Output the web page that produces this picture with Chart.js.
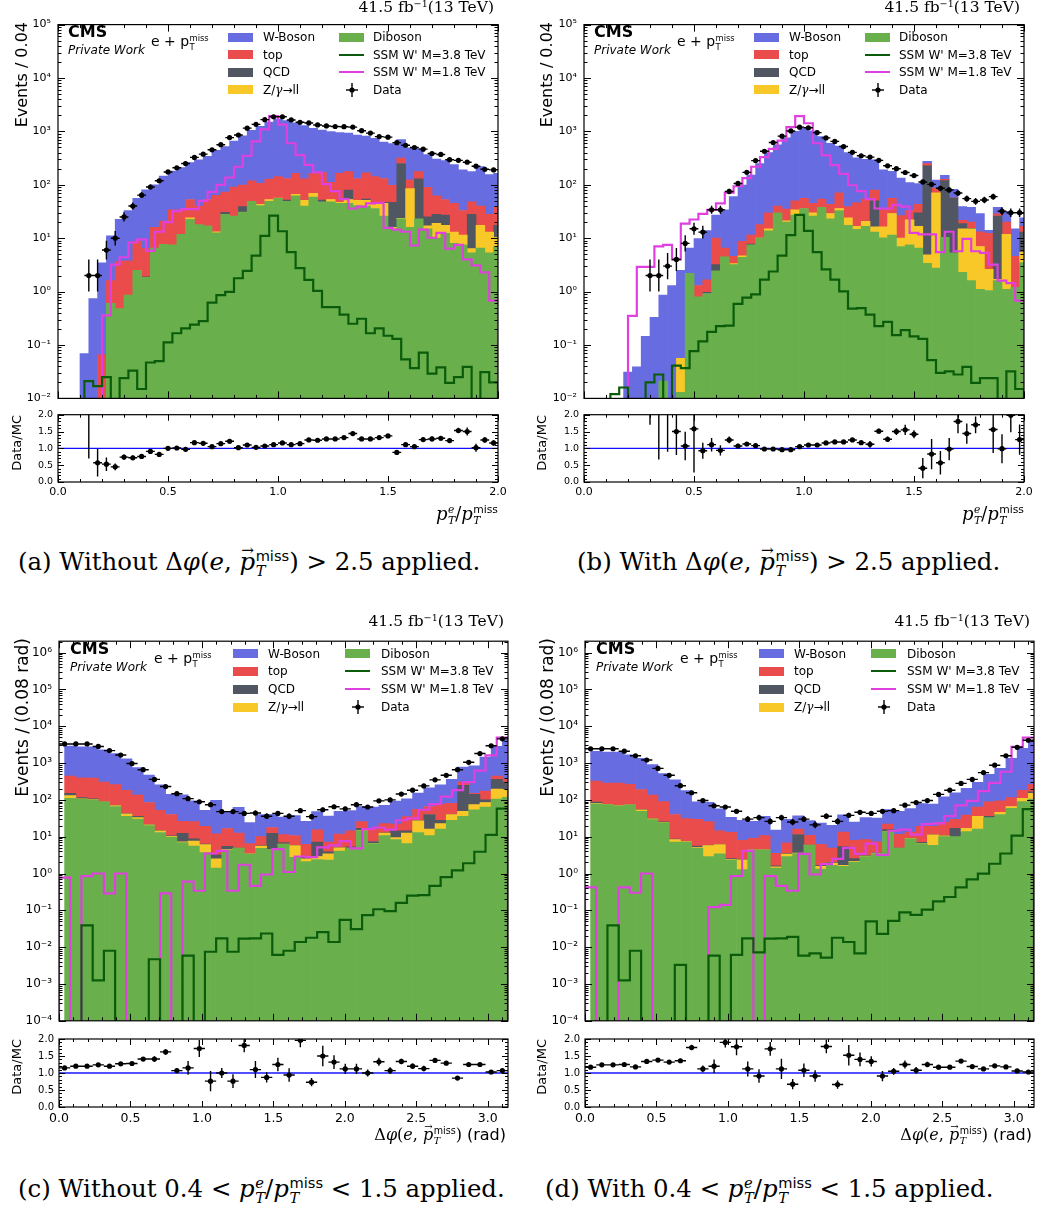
<!DOCTYPE html>
<html>
<head>
<meta charset="utf-8">
<title>W' e + MET control distributions</title>
<script src="https://cdn.jsdelivr.net/npm/chart.js@4.4.1/dist/chart.umd.min.js"></script>
<style>
html, body { margin: 0; padding: 0; background: #fff; }
body { width: 1038px; height: 1207px; position: relative; overflow: hidden; font-family: "DejaVu Sans", sans-serif; color: #000; }
canvas { position: absolute; }
.t { position: absolute; white-space: nowrap; line-height: 1; }
.cms { font-weight: bold; font-size: 16px; }
.pw { font-style: italic; font-size: 12px; }
.ep { font-size: 14px; }
.lg { font-size: 12px; }
.sw { position: absolute; width: 25px; height: 9px; }
.ln { position: absolute; width: 25px; height: 2px; }
.serif { font-family: "DejaVu Serif", "Liberation Serif", serif; }
.sans { font-family: "DejaVu Sans", sans-serif; font-style: normal; }
.vl { position: absolute; writing-mode: vertical-rl; transform: rotate(180deg); white-space: nowrap; line-height: 1; }
.ss { display: inline-block; vertical-align: -0.42em; font-size: 0.6em; line-height: 1.05; text-align: left; margin-left: 0.04em; }
.ss > span { display: block; }
.vec { position: relative; display: inline-block; font-style: italic; }
.vec .arr { position: absolute; left: 0.12em; top: -0.5em; font-size: 0.62em; font-style: normal; }
sup.e { font-size: 0.62em; vertical-align: 0.55em; line-height: 0; }
</style>
</head>
<body>
<script>
// ---- binning ----
const ptRange = [0, 2.0];        // p_T^e / p_T^miss, 50 bins of 0.04
const dphiRange = [0, Math.PI];  // delta phi, 40 bins of ~0.08 rad

// ---- (a) without delta-phi cut ----
const aDiboson = [0,0,0,0,0,0.60,0.48,0.86,2.5,1.85,6.5,7.7,7.5,11.8,22.5,18,17,12.6,28,26,31,49,41,49,56,49,62,40,59,48,48,45,45,41,40,36,26,15,23,16,23,15,10,12.3,8,7.5,5.3,6.5,5.3,7];
const aZll = [0,0,0,0,0,0,0,0,0,0,0,0,0,0,1.5,0,0,0.6,0,0,0,0,2,4,0.5,0,4,11,10,0,5,2,8,10,11,8,19,1,0.5,69,0,2,9,5.2,5,4,1.1,11,7.7,3.3];
const aQCD = [0,0,0,0,0,0,0,0,0,0.05,0,0,0,0,0,0,0,0,2.5,0,8,0,0,0,0,3,0,0,0,4,0,0,27,0,3,0,2,31,227,0,106,8,9,9.5,0,0,21.6,0,0,7.2];
const aTop = [0,0,0,0,0.066,1.0,3.2,2.9,6.2,4.5,9.5,13.3,26.5,22,29,22,36,50,42.5,65,60,70,64,75,86,79,98,79,93,119,58,117,96,80,113,98,84,51,65,39,47,65,34,26,32,21.5,20,22.5,15,20.5];
const aWBoson = [0,0,0.069,0.74,3.4,9.5,19,29,47,74,84,124,146,176,209,255,287,377,447,569,731,926,1143,1372,1552,1469,1286,1160,978,884,877,791,752,719,653,598,499,492,384,371,300,279,240,232,195,157,129,179,128,126];
const aSig38 = [0,0,0,0.021,0.017,0.025,0,0.024,0.033,0.015,0.047,0.050,0.112,0.166,0.205,0.24,0.28,0.62,0.86,0.99,1.78,2.45,4.7,11.1,26.5,13.5,5.5,2.75,1.66,1.03,0.51,0.51,0.37,0.25,0.31,0.166,0.205,0.149,0.13,0.054,0.037,0.072,0.029,0.038,0.0195,0.025,0.039,0,0.031,0.020];
const aSig18 = [0,0,0,0,0,0.36,3.2,4.4,8.3,9.5,5.8,13.2,20,32,35,35,50,74,100,137,218,350,650,1090,1940,1340,600,360,236,171,103,76,54,36,39,45,46,15.6,14.5,13.2,7.3,14.5,10.2,12.6,6.4,7.5,4.0,3.1,2.3,0.68];
const aData = [0,0,0,2,2,6,10,25,40,64,91,119,174,208,250,326,375,452,564,765,857,1150,1355,1660,1880,1880,1640,1480,1440,1320,1265,1235,1225,1205,1030,930,800,780,615,550,500,465,386,370,295,287,265,223,195,190];
const aRatio = [null,null,null,2.7,0.57,0.53,0.45,0.74,0.72,0.76,0.91,0.82,1.00,1.01,0.97,1.17,1.15,1.05,1.14,1.21,1.02,1.10,1.03,1.07,1.11,1.16,1.11,1.14,1.25,1.24,1.28,1.28,1.32,1.44,1.28,1.28,1.32,1.37,0.88,1.11,1.05,1.26,1.28,1.30,1.23,1.53,1.50,1.02,1.25,1.16];
const aRatioErr = [0,0,0,2.0,0.41,0.2,0.1,0.08,0.07,0.06,0.06,0.04,0.04,0.03,0.03,0.03,0.03,0.03,0.03,0.03,0.02,0.02,0.02,0.02,0.02,0.02,0.02,0.02,0.02,0.02,0.02,0.02,0.02,0.03,0.03,0.03,0.03,0.04,0.03,0.04,0.06,0.07,0.07,0.07,0.07,0.08,0.12,0.12,0.08,0.08];

// ---- (b) with delta-phi > 2.5 ----
const bDiboson = [0,0,0,0,0,0,0,0,0.021,0,0.013,2.2,0.8,0.92,2.45,4.5,3.2,4.4,7.5,10,13.7,30,20,27,36,26,38,23,33,17.5,14.7,16.7,13,10.2,11.4,7,7.5,6.5,3.4,2.75,10.4,5.3,2.3,1.6,1.1,1.05,1.6,1.1,1.2,3.5];
const bZll = [0,0,0,0,0,0,0,0,0,0,0.043,0,0,0,0,0,0.15,0.3,0,0.1,1.3,0,1.2,7,0,4,0,6,3,6.5,2,3.9,3.3,6.1,17.6,3,14.5,10.2,1.5,68,0,0,12.7,13.4,5.9,1.55,0.1,10.7,0,2.0];
const bQCD = [0,0,0,0,0,0,0,0,0,0,0,0,0,0.05,0.75,0,0,0,0.3,0,0,0,0,0,0,0,0,0,0,0,0,0,33.7,0,0,0,0,13.3,222,0,109.6,51,3.7,0.3,0,0,24.3,0,0,7.5];
const bTop = [0,0,0,0,0,0,0,0,0,0,0,0,0.5,0.69,6.8,2.0,1.25,4.0,3.6,7.9,15,10,13.8,16,20,15,16,14,35,15,29.3,33.4,30,17.7,27,16.5,11,13,23,16,7,0.7,2.8,4.7,6.2,9.7,2.5,8.2,3.4,3.7];
const bWBoson = [0,0,0,0,0.031,0.039,0.145,0.33,0.84,1.3,2.44,4.3,8.5,12.3,17,27.5,55.4,90,140,232,370,520,725,950,1114,975,746,557,459,361,274,245,215,156,123,106.5,77,62,26,36,24,25,17.5,18,15.8,1.7,9.5,12,10.4,7.3];
const bSig38 = [0,0,0,0.012,0.016,0,0,0.020,0.028,0,0.041,0.037,0.077,0.117,0.176,0.226,0.23,0.59,0.77,0.89,1.68,2.38,4.7,11.4,27.3,13.7,5.5,2.6,1.68,1.01,0.48,0.49,0.37,0.226,0.27,0.153,0.19,0.145,0.13,0.052,0.030,0.032,0.028,0.039,0.0195,0.024,0.024,0,0.032,0.015];
const bSig18 = [0,0,0,0,0,0.35,2.9,2.9,7.0,7.5,4.0,18.7,22.4,28.5,34,45,71,94,133,218,330,470,670,1200,1940,1420,600,355,234,160,98,76,54,36,36,42,39,12.6,11.8,11.8,5.5,13.2,5.7,9.7,5.7,5.3,3.2,1.6,1.44,0.68];
const bData = [0,0,0,0,0,0,0,2,2,3,4,8,15,13,34,34,75,106,171,284,425,620,815,1020,1200,1170,950,755,650,520,405,350,330,287,227,200,170,149,113,102,86,80,70,55,49,52,60,32,30,30];
const bRatio = [null,null,null,null,null,null,null,6.0,2.3,2.4,1.50,1.07,1.58,0.93,1.11,0.94,1.25,1.07,1.13,1.08,0.98,0.98,0.96,0.96,1.05,1.10,1.10,1.16,1.19,1.19,1.25,1.17,1.12,1.51,1.27,1.50,1.55,1.42,0.41,0.83,0.57,0.98,1.80,1.44,1.70,3.7,1.56,0.99,1.98,1.26];
const bRatioErr = [0,0,0,0,0,0,0,4.3,1.63,1.5,0.7,0.42,1.3,0.24,0.2,0.15,0.1,0.07,0.05,0.04,0.03,0.03,0.03,0.03,0.03,0.03,0.03,0.03,0.03,0.04,0.04,0.04,0.1,0.07,0.08,0.1,0.15,0.12,0.3,0.45,0.35,0.33,0.35,0.3,0.25,0.5,0.7,0.43,0.5,0.45];

// ---- (c) without pT ratio cut ----
const cDiboson = [110,104,100,87,66,36,30,20,13,9.7,6.9,5.6,3.7,1.4,4.3,4.8,3.3,4.8,4.3,6.2,2.75,2.1,2.4,2.3,4.1,4.8,14.5,6.5,10.7,8.4,6.5,13,10.7,16,28,36,54,64,105,117];
const cZll = [20,3,2,2,4,6,3,1,1.5,0.5,0.3,2,2.4,1.1,0.2,0.1,0.1,0.8,0.1,0.1,3,0.4,0.5,1.1,0.9,0.1,0.1,0.1,1.9,1,6.1,14,5.3,6.7,12,13,20,21,90,73];
const cQCD = [20,8,5,2,1,1,3,0.5,0.3,0.3,5.2,1.1,0.2,0.7,1,0.1,0.1,0.1,8,0.6,0.1,0.4,4.2,0.5,0.1,0.4,2.4,0.8,0.1,5,1.9,0.5,24,5.3,0.5,201,67,15,165,115];
const cTop = [290,281,283,214,189,140,99,63.5,37,29.5,13.6,17,12.7,8.7,11.2,7.6,3,4.3,5.4,4.5,4.9,3.3,8.3,3.2,6.7,9.2,8.7,8.6,10,7.5,20.5,27.5,26,49,40.5,55,9,73,80,70];
const cWBoson = [2430,2354,2360,1975,1560,1117,623,383,203,102,111,68,33,85,31,50,17.5,30,23,22.6,27,20,32.6,29,37,36.5,40,48,48,71,72,97,146,178,279,471,690,1277,2420,3875];
const cSig38 = [0,0,0.039,0.00126,0.008,0,0,0,0.0047,0,0,0.0059,0,0.0075,0.0174,0.0075,0.017,0.0174,0.0235,0.0062,0.008,0.0138,0.018,0.0255,0.0138,0.055,0.031,0.074,0.107,0.095,0.16,0.25,0.26,0.46,0.80,1.22,1.9,3.9,11.2,58];
const cSig18 = [0.77,0,0.85,1.0,0.29,1.0,0,0,0,0.29,0,0.60,0.34,3.5,4.1,0.34,1.73,0.46,0.94,4.6,1.1,2.9,2.8,5.1,5.8,7.6,4.8,16,17.8,15.5,28,31.5,54,77,122,183,305,620,1620,4900];
const cData = [3300,3300,3300,2830,2180,1650,970,660,360,230,147,108,89,74,48,48,43,44,36,43,36,51,35,54,65,57,74,64,94,100,144,183,240,350,465,660,1050,1810,2950,4550];
const cRatio = [1.15,1.20,1.20,1.24,1.20,1.27,1.28,1.41,1.41,1.62,1.07,1.15,1.72,0.76,1.0,0.76,1.81,1.10,0.87,1.25,0.94,1.96,0.73,1.5,1.32,1.12,1.12,1.0,1.33,1.07,1.34,1.20,1.13,1.37,1.29,0.85,1.25,1.25,1.03,1.07];
const cRatioErr = [0.02,0.02,0.02,0.02,0.02,0.03,0.04,0.06,0.08,0.08,0.08,0.2,0.25,0.3,0.15,0.2,0.2,0.25,0.15,0.2,0.2,0.2,0.12,0.3,0.2,0.15,0.15,0.1,0.12,0.1,0.08,0.08,0.08,0.05,0.04,0.03,0.03,0.03,0.02,0.02];

// ---- (d) with 0.4 < pT ratio < 1.5 ----
const dDiboson = [78,74,69,72,49,29,24,7.1,7.1,4.8,2.87,3.4,2.34,1.27,4.3,4.3,1.41,2.87,3.5,5.8,1.33,1.66,1.56,2.03,2.87,3.5,13.7,4.8,8.8,6.5,5.8,10,10,13.7,16,33,40,59,90,105];
const dZll = [3,1,1,1,5,1.5,0.5,1.3,0.3,0.3,2.9,2.7,0.1,1.07,0.1,0.1,0.1,0.5,0.1,0.1,0.23,0.25,0.1,0.1,0.1,0.1,0.1,0.1,0.1,0.1,5.4,0.5,0,3.3,20,0,6,7,20,45];
const dQCD = [6,1,1,1,1,0.5,1,0.2,0.1,0.5,0.1,0.1,0.1,0.1,0.1,0.1,0.1,0.1,7.9,0.1,0.1,0.1,3.7,0.4,0.1,0.1,1.8,0.1,0.1,0.4,0.1,0.1,7,0,0,3,0,0,0,16];
const dTop = [237,212,217,191,136,104,64.5,31.4,23.5,23.9,19.8,8.3,10.7,5.5,4.6,6.2,1.9,3.3,4.6,4.9,4.5,2.9,8.0,5.4,5.3,3.6,6.3,6.6,4.4,12.1,7.8,14,12.5,21.5,28,53,48,49,73,99];
const dWBoson = [1770,1688,1688,1415,1148,768,428,312,148,59.5,60,43,20.5,19.8,17.2,25.3,11.7,22.7,21,16.6,17.4,15.4,25.8,17.1,24.8,24.6,32.2,37.2,44.4,60,58,96,126.5,168.5,238,402,629,1224,2345,3785];
const dSig38 = [0,0,0.039,0.00126,0.008,0,0,0,0.0033,0,0,0.0059,0,0.0062,0.0174,0.0072,0.017,0.0174,0.019,0.0059,0.0068,0.0052,0.018,0.0138,0.0068,0.05,0.023,0.052,0.088,0.075,0.105,0.175,0.23,0.42,0.69,0.99,1.84,3.5,10.7,56];
const dSig18 = [0.42,0,0,0.42,0.30,1.0,0,0,0,0,0,0.123,0.14,0.85,4.1,0,0.85,0.46,0.34,3.4,0.94,1.8,2.5,5.0,3.4,6.5,3.2,14.5,15.5,11.4,22,23,36,71,94,173,288,580,2740,4900];
const dData = [2450,2450,2450,2100,1580,1210,715,465,243,156,96,69,64,49,30,33,26,33,25,30,21,36,26,38,46,43,49,51,72,85,96,141,183,280,360,550,875,1580,2680,4170];
const dRatio = [1.17,1.24,1.24,1.25,1.18,1.34,1.38,1.32,1.36,1.75,1.12,1.20,1.90,1.77,1.12,0.91,1.71,1.12,0.67,1.08,0.91,1.78,0.66,1.52,1.40,1.34,0.91,1.05,1.25,1.08,1.25,1.17,1.17,1.35,1.19,1.12,1.21,1.18,1.06,1.03];
const dRatioErr = [0.02,0.02,0.02,0.02,0.02,0.04,0.04,0.05,0.06,0.08,0.1,0.2,0.15,0.25,0.22,0.2,0.2,0.3,0.15,0.2,0.17,0.2,0.12,0.3,0.2,0.15,0.15,0.1,0.12,0.1,0.08,0.06,0.06,0.04,0.04,0.03,0.03,0.03,0.02,0.02];

// colours
const colW = '#676ce0', colTop = '#ea4c4c', colQCD = '#505763', colZ = '#f8c828', colDib = '#69b04c';
const colS38 = '#0a5c0a', colS18 = '#e040e0';

const FLOOR = 1e-9;      // stand-in for empty bins on the log axis (drawn far below the frame)
const errStore = {};

Chart.defaults.font.family = 'DejaVu Sans';
Chart.defaults.color = '#000';

function supNum(n) {
    const m = {'-': '\u207B', '0': '\u2070', '1': '\u00B9', '2': '\u00B2', '3': '\u00B3', '4': '\u2074', '5': '\u2075', '6': '\u2076'};
    return String(n).split('').map(c => m[c]).join('');
}

// inward ticks on all four sides + frame, matplotlib/CMS style
const frameTicks = {
    id: 'frameTicks',
    afterDatasetsDraw(chart) {
        const e = errStore[chart.canvas.id];
        if (!e) return;
        const {ctx, chartArea: a} = chart;
        const xs = chart.scales.xl, ys = chart.scales.y;
        ctx.save();
        ctx.strokeStyle = '#000';
        ctx.lineWidth = 1;
        ctx.beginPath();
        for (let k = 0; k * 0.1 <= xs.max + 1e-9; k++) {
            const px = Math.round(xs.getPixelForValue(k * 0.1)) + 0.5;
            const len = k % 5 === 0 ? e.major : e.minor;
            ctx.moveTo(px, a.bottom); ctx.lineTo(px, a.bottom - len);
            ctx.moveTo(px, a.top); ctx.lineTo(px, a.top + len);
        }
        const yt = [];
        if (e.log) {
            for (let p = Math.round(Math.log10(ys.min)); Math.pow(10, p) <= ys.max; p++) {
                for (let m = 1; m < 10; m++) {
                    const v = m * Math.pow(10, p);
                    if (v >= ys.min && v <= ys.max) yt.push([v, m === 1]);
                }
            }
        } else {
            for (let k = 0; k <= 20; k++) yt.push([k * 0.1, k % 5 === 0]);
        }
        yt.forEach(([v, maj]) => {
            const py = Math.round(ys.getPixelForValue(v)) + 0.5;
            const len = maj ? e.major : e.minor;
            ctx.moveTo(a.left, py); ctx.lineTo(a.left + len, py);
            ctx.moveTo(a.right, py); ctx.lineTo(a.right - len, py);
        });
        ctx.stroke();
        ctx.lineWidth = 1.2;
        ctx.strokeRect(a.left, a.top, a.right - a.left, a.bottom - a.top);
        ctx.restore();
    }
};

// data error bars (x: bin width, y: given interval)
const errBars = {
    id: 'errBars',
    afterDatasetsDraw(chart) {
        const e = errStore[chart.canvas.id];
        if (!e) return;
        const {ctx, chartArea: a} = chart;
        const xs = chart.scales.xl, ys = chart.scales[e.yId];
        ctx.save();
        ctx.beginPath();
        ctx.rect(a.left, a.top, a.right - a.left, a.bottom - a.top);
        ctx.clip();
        ctx.strokeStyle = '#000';
        ctx.lineWidth = e.lw;
        ctx.beginPath();
        e.pts.forEach(q => {
            const px = xs.getPixelForValue(q.x), py = ys.getPixelForValue(q.y);
            ctx.moveTo(xs.getPixelForValue(q.x - e.hw), py);
            ctx.lineTo(xs.getPixelForValue(q.x + e.hw), py);
            const yl = (e.log && q.lo <= 0) ? a.bottom + 10 : ys.getPixelForValue(q.lo);
            ctx.moveTo(px, yl);
            ctx.lineTo(px, ys.getPixelForValue(q.hi));
        });
        ctx.stroke();
        ctx.restore();
    }
};
Chart.register(frameTicks, errBars);

function placeCanvas(id, box, pad) {
    const c = document.createElement('canvas');
    c.id = id;
    const w = box.R - box.L + pad.l + pad.r, h = box.B - box.T + pad.t + pad.b;
    c.width = w; c.height = h;
    c.style.left = (box.L - pad.l) + 'px';
    c.style.top = (box.T - pad.t) + 'px';
    c.style.width = w + 'px';
    c.style.height = h + 'px';
    document.body.appendChild(c);
    return c;
}

function buildMain(p) {
    const pad = {l: 46, t: 10, r: 14, b: 8};
    const id = 'main_' + p.id;
    const cv = placeCanvas(id, p.box, pad);
    const n = p.W.length, w = p.xMax / n;
    const labels = p.W.map((_, i) => ((i + 0.5) * w).toFixed(4));
    const binPx = (p.box.R - p.box.L) / n;

    const bar = (label, vals, color) => ({
        type: 'bar', label, data: vals.map(v => v > 0 ? v : null),
        backgroundColor: color, borderWidth: 0, barThickness: binPx,
        categoryPercentage: 1, barPercentage: 1,
        xAxisID: 'x', yAxisID: 'y', order: 3
    });
    const step = (label, vals, color) => {
        const pts = [{x: 0, y: FLOOR}];
        vals.forEach((v, i) => pts.push({x: i * w, y: v > 0 ? v : FLOOR}));
        pts.push({x: p.xMax, y: vals[n - 1] > 0 ? vals[n - 1] : FLOOR});
        pts.push({x: p.xMax, y: FLOOR});
        return {type: 'line', label, data: pts, stepped: 'before', borderColor: color, borderWidth: 2.2,
            pointRadius: 0, fill: false, xAxisID: 'xl', yAxisID: 'ys', order: 2};
    };
    const dataPts = [];
    p.data.forEach((v, i) => { if (v > 0) dataPts.push({x: (i + 0.5) * w, y: v}); });
    errStore[id] = {
        log: true, major: 7, minor: 3.5, yId: 'ys', hw: w / 2, lw: 1.4,
        pts: dataPts.map(q => ({x: q.x, y: q.y, lo: q.y - (Math.sqrt(q.y + 0.25) - 0.5), hi: q.y + Math.sqrt(q.y + 0.25) + 0.5}))
    };

    const decades = [];
    for (let k = Math.round(Math.log10(p.yMin)); Math.pow(10, k) <= p.yMax; k++) decades.push(Math.pow(10, k));

    new Chart(cv, {
        data: {
            labels,
            datasets: [
                {type: 'line', label: 'Data', data: dataPts, showLine: false, pointRadius: 2.6,
                    pointBackgroundColor: '#000', pointBorderWidth: 0, xAxisID: 'xl', yAxisID: 'ys', order: 1},
                bar('Diboson', p.D, colDib),
                bar('Z/γ→ll', p.Z, colZ),
                bar('QCD', p.Q, colQCD),
                bar('top', p.T, colTop),
                bar('W-Boson', p.W, colW),
                step("SSM W' M=3.8 TeV", p.s38, colS38),
                step("SSM W' M=1.8 TeV", p.s18, colS18)
            ]
        },
        options: {
            responsive: false, animation: false, devicePixelRatio: 1,
            datasets: {bar: {categoryPercentage: 1, barPercentage: 1}},
            layout: {padding: {left: 0, top: pad.t, right: pad.r, bottom: 0}},
            plugins: {legend: {display: false}, tooltip: {enabled: false}},
            scales: {
                x: {type: 'category', stacked: true, offset: true,
                    grid: {display: false, drawTicks: false}, border: {display: false},
                    ticks: {display: false}, afterFit: s => { s.height = pad.b; }},
                xl: {type: 'linear', min: 0, max: p.xMax, display: false},
                y: {type: 'logarithmic', min: p.yMin, max: p.yMax, stacked: true,
                    grid: {display: false, drawTicks: false}, border: {display: false},
                    ticks: {autoSkip: false, padding: 7, font: {size: p.tick}, color: '#000',
                        callback: v => '10' + supNum(Math.round(Math.log10(v)))},
                    afterBuildTicks: s => { s.ticks = decades.map(v => ({value: v})); },
                    afterFit: s => { s.width = pad.l; }},
                ys: {type: 'logarithmic', min: p.yMin, max: p.yMax, display: false}
            }
        }
    });
}

function buildRatio(p) {
    const pad = {l: 46, t: 10, r: 14, b: p.rb};
    const id = 'ratio_' + p.id;
    const cv = placeCanvas(id, p.rbox, pad);
    const n = p.ratio.length, w = p.xMax / n;
    const pts = [];
    p.ratio.forEach((v, i) => { if (v !== null) pts.push({x: (i + 0.5) * w, y: v, e: p.rerr[i]}); });
    errStore[id] = {
        log: false, major: 6, minor: 3, yId: 'y', hw: w / 2, lw: 1.4,
        pts: pts.map(q => ({x: q.x, y: q.y, lo: q.y - q.e, hi: q.y + q.e}))
    };
    const xt = [];
    for (let k = 0; k * 0.5 <= p.xMax + 1e-9; k++) xt.push(k * 0.5);
    new Chart(cv, {
        data: {
            datasets: [
                {type: 'line', label: 'Data/MC', data: pts.map(q => ({x: q.x, y: q.y})), showLine: false,
                    pointRadius: 2.6, pointBackgroundColor: '#000', pointBorderWidth: 0, xAxisID: 'xl', yAxisID: 'y', order: 1},
                {type: 'line', label: 'unity', data: [{x: 0, y: 1}, {x: p.xMax, y: 1}], borderColor: p.unityCol,
                    borderWidth: p.unityW, pointRadius: 0, xAxisID: 'xl', yAxisID: 'y', order: 2}
            ]
        },
        options: {
            responsive: false, animation: false, devicePixelRatio: 1,
            layout: {padding: {left: 0, top: pad.t, right: pad.r, bottom: 0}},
            plugins: {legend: {display: false}, tooltip: {enabled: false}},
            scales: {
                xl: {type: 'linear', min: 0, max: p.xMax,
                    grid: {display: false, drawTicks: false}, border: {display: false},
                    ticks: {autoSkip: false, maxRotation: 0, padding: 4, font: {size: p.rxTick}, color: '#000',
                        callback: v => v.toFixed(1)},
                    afterBuildTicks: s => { s.ticks = xt.map(v => ({value: v})); },
                    afterFit: s => { s.height = pad.b; }},
                y: {type: 'linear', min: 0, max: 2,
                    grid: {display: false, drawTicks: false}, border: {display: false},
                    ticks: {autoSkip: false, padding: 5, font: {size: p.ryTick}, color: '#000',
                        callback: v => v.toFixed(1)},
                    afterBuildTicks: s => { s.ticks = [0, 0.5, 1, 1.5, 2].map(v => ({value: v})); },
                    afterFit: s => { s.width = pad.l; }}
            }
        }
    });
}

// ---- text overlays ----
function add(html) { document.body.insertAdjacentHTML('beforeend', html); }
function ss(a, b) { return `<span class="ss"><span>${a}</span><span>${b}</span></span>`; }
const pvec = '<span class="vec">p<span class="arr">\u2192</span></span>';
const miss = '<span class="sans">miss</span>';

function overlay(p) {
    const {L, T, R} = p.box, o = p.ov;
    add(`<div class="t serif" style="right:${1038 - R + 4}px;top:${T + o.lumiTop}px;font-size:15.5px">41.5 fb<sup class="e">\u22121</sup>(13 TeV)</div>`);
    add(`<div class="t cms" style="left:${L + o.cms[0]}px;top:${T + o.cms[1]}px">CMS</div>`);
    add(`<div class="t pw" style="left:${L + o.pw[0]}px;top:${T + o.pw[1]}px">Private Work</div>`);
    add(`<div class="t ep" style="left:${L + o.ep[0]}px;top:${T + o.ep[1]}px">e + p${ss('miss', 'T')}</div>`);
    const col1 = [['W-Boson', colW], ['top', colTop], ['QCD', colQCD], ['Z/<i class="serif">γ</i>\u2192ll', colZ]];
    col1.forEach(([name, c], i) => {
        const y = T + o.rows[i];
        add(`<div class="sw" style="left:${L + o.sw1}px;top:${y - 4.5}px;background:${c}"></div>`);
        add(`<div class="t lg" style="left:${L + o.tx1}px;top:${y - 6}px">${name}</div>`);
    });
    const col2 = [['Diboson', colDib, 'patch'], ["SSM W' M=3.8 TeV", colS38, 'line'], ["SSM W' M=1.8 TeV", colS18, 'line'], ['Data', '#000', 'data']];
    col2.forEach(([name, c, kind], i) => {
        const y = T + o.rows[i];
        if (kind === 'patch') add(`<div class="sw" style="left:${L + o.sw2}px;top:${y - 4.5}px;background:${c}"></div>`);
        if (kind === 'line') add(`<div class="ln" style="left:${L + o.sw2}px;top:${y - 1}px;background:${c}"></div>`);
        if (kind === 'data') add(`<svg style="position:absolute;left:${L + o.sw2 + 6}px;top:${y - 7}px" width="14" height="14"><line x1="1" y1="7" x2="13" y2="7" stroke="#000" stroke-width="1.4"/><line x1="7" y1="0" x2="7" y2="14" stroke="#000" stroke-width="1.4"/><circle cx="7" cy="7" r="2.6" fill="#000"/></svg>`);
        add(`<div class="t lg" style="left:${L + o.tx2}px;top:${y - 6}px">${name}</div>`);
    });
    // axis titles
    add(`<div class="vl" style="left:${o.ylx - o.ylSize / 2}px;top:${T + 1}px;font-size:${o.ylSize}px">${p.ylabel}</div>`);
    add(`<div class="vl" style="left:${o.ylx - 6 - 6.5}px;top:${p.rbox.T + 1}px;font-size:13px">Data/MC</div>`);
    add(`<div class="t serif" style="right:${1038 - R + o.xlRight}px;top:${o.xlTop}px;font-size:${o.xlSize}px">${p.xlabel}</div>`);
}

const xlabPt = `<i>p</i>${ss('<i>e</i>', '<i>T</i>')}/<i>p</i>${ss(miss, '<i>T</i>')}`;
const xlabPhi = `\u0394<i>\u03C6</i>(<i>e</i>, ${pvec}${ss(miss, '<i>T</i>')}) <span class="sans">(rad)</span>`;

const ovAB = {lumiTop: -21, cms: [10, 3], pw: [10, 23], ep: [93, 13], sw1: 170, tx1: 205, sw2: 281, tx2: 315,
    rows: [16, 33.5, 51, 68.5], ylSize: 16};
const ovCD = {lumiTop: -23, cms: [11, 4], pw: [11, 24], ep: [95, 14], sw1: 174, tx1: 209, sw2: 286, tx2: 322,
    rows: [16.5, 34, 52, 70], ylSize: 17};

const panels = [
    {id: 'a', box: {L: 58, T: 21, R: 498, B: 404}, rbox: {L: 58, T: 414, R: 498, B: 482}, xMax: ptRange[1],
        yMin: 1e-2, yMax: 1e5, tick: 11, rxTick: 11, ryTick: 9.5, rb: 22, unityCol: '#1010ff', unityW: 1.3,
        D: aDiboson, Z: aZll, Q: aQCD, T: aTop, W: aWBoson, s38: aSig38, s18: aSig18, data: aData, ratio: aRatio, rerr: aRatioErr,
        ylabel: 'Events / 0.04', xlabel: xlabPt, ov: Object.assign({ylx: 22, xlRight: 0, xlTop: 504, xlSize: 18}, ovAB)},
    {id: 'b', box: {L: 584, T: 21, R: 1024, B: 404}, rbox: {L: 584, T: 414, R: 1024, B: 482}, xMax: ptRange[1],
        yMin: 1e-2, yMax: 1e5, tick: 11, rxTick: 11, ryTick: 9.5, rb: 22, unityCol: '#1010ff', unityW: 1.3,
        D: bDiboson, Z: bZll, Q: bQCD, T: bTop, W: bWBoson, s38: bSig38, s18: bSig18, data: bData, ratio: bRatio, rerr: bRatioErr,
        ylabel: 'Events / 0.04', xlabel: xlabPt, ov: Object.assign({ylx: 547, xlRight: 0, xlTop: 504, xlSize: 18}, ovAB)},
    {id: 'c', box: {L: 59, T: 637, R: 508, B: 1027}, rbox: {L: 59, T: 1038, R: 508, B: 1107}, xMax: dphiRange[1],
        yMin: 1e-4, yMax: 2.04e6, tick: 12, rxTick: 12.5, ryTick: 10, rb: 24, unityCol: '#5050ff', unityW: 2,
        D: cDiboson, Z: cZll, Q: cQCD, T: cTop, W: cWBoson, s38: cSig38, s18: cSig18, data: cData, ratio: cRatio, rerr: cRatioErr,
        ylabel: 'Events / (0.08 rad)', xlabel: xlabPhi, ov: Object.assign({ylx: 22, xlRight: 2, xlTop: 1126, xlSize: 16}, ovCD)},
    {id: 'd', box: {L: 585, T: 637, R: 1034, B: 1027}, rbox: {L: 585, T: 1038, R: 1034, B: 1107}, xMax: dphiRange[1],
        yMin: 1e-4, yMax: 2.04e6, tick: 12, rxTick: 12.5, ryTick: 10, rb: 24, unityCol: '#5050ff', unityW: 2,
        D: dDiboson, Z: dZll, Q: dQCD, T: dTop, W: dWBoson, s38: dSig38, s18: dSig18, data: dData, ratio: dRatio, rerr: dRatioErr,
        ylabel: 'Events / (0.08 rad)', xlabel: xlabPhi, ov: Object.assign({ylx: 547, xlRight: 2, xlTop: 1126, xlSize: 16}, ovCD)}
];

panels.forEach(p => { buildMain(p); buildRatio(p); overlay(p); });

// captions
const capStyle = 'font-size:24.4px';
add(`<div class="t serif" style="left:18px;top:548px;${capStyle}">(a) Without \u0394<i>\u03C6</i>(<i>e</i>, ${pvec}${ss(miss, '<i>T</i>')}) &gt; 2.5 applied.</div>`);
add(`<div class="t serif" style="left:577px;top:548px;${capStyle}">(b) With \u0394<i>\u03C6</i>(<i>e</i>, ${pvec}${ss(miss, '<i>T</i>')}) &gt; 2.5 applied.</div>`);
add(`<div class="t serif" style="left:18px;top:1175px;${capStyle}">(c) Without 0.4 &lt; ${xlabPt} &lt; 1.5 applied.</div>`);
add(`<div class="t serif" style="left:545px;top:1175px;${capStyle}">(d) With 0.4 &lt; ${xlabPt} &lt; 1.5 applied.</div>`);
</script>
</body>
</html>
